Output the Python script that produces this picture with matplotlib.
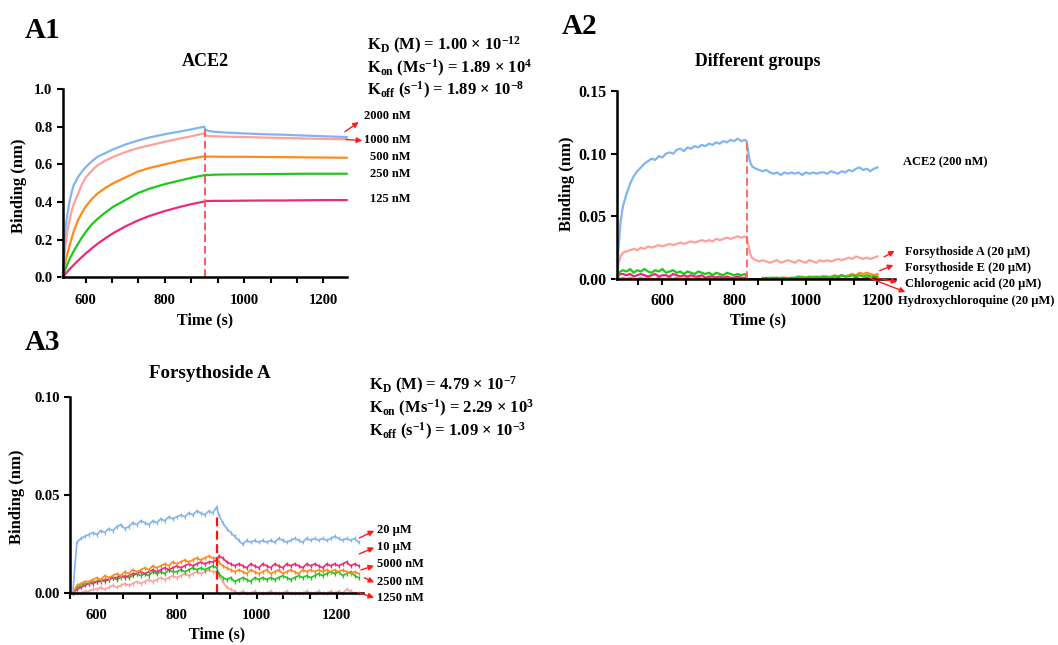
import matplotlib
matplotlib.use("Agg")
import matplotlib.pyplot as plt
import numpy as np
from matplotlib.ticker import MultipleLocator, FormatStrFormatter

plt.rcParams['font.family'] = ['Liberation Serif', 'DejaVu Serif']
plt.rcParams['font.weight'] = 'bold'
plt.rcParams['mathtext.fontset'] = 'custom'
plt.rcParams['mathtext.rm'] = 'Liberation Serif:bold'
plt.rcParams['mathtext.bf'] = 'Liberation Serif:bold'
plt.rcParams['mathtext.it'] = 'Liberation Serif:bold:italic'
plt.rcParams['mathtext.default'] = 'rm'

# ---------------- A1 : ACE2 ----------------
a1_time = [542, 546, 550, 555, 560, 565, 570, 580, 590, 600, 615, 630, 650, 670, 700, 730, 760,
           800, 840, 870, 899, 902, 910, 925, 950, 1000, 1050, 1100, 1150, 1200, 1259]
a1_2000 = [0.0, 0.17, 0.28, 0.35, 0.41, 0.455, 0.49, 0.53, 0.56, 0.585, 0.615, 0.64, 0.66, 0.68,
           0.705, 0.725, 0.742, 0.76, 0.775, 0.787, 0.80,
           0.785, 0.777, 0.773, 0.769, 0.764, 0.76, 0.757, 0.753, 0.749, 0.745]
a1_1000 = [0.0, 0.11, 0.19, 0.26, 0.31, 0.355, 0.39, 0.44, 0.49, 0.53, 0.565, 0.595, 0.62, 0.64,
           0.665, 0.685, 0.70, 0.72, 0.738, 0.75, 0.765,
           0.753, 0.751, 0.749, 0.747, 0.745, 0.742, 0.74, 0.737, 0.735, 0.733]
a1_500 = [0.0, 0.055, 0.095, 0.135, 0.175, 0.21, 0.245, 0.30, 0.34, 0.375, 0.415, 0.445, 0.475,
          0.50, 0.53, 0.56, 0.58, 0.60, 0.62, 0.632, 0.642,
          0.64, 0.641, 0.641, 0.64, 0.64, 0.639, 0.638, 0.637, 0.636, 0.635]
a1_250 = [0.0, 0.025, 0.05, 0.075, 0.10, 0.12, 0.14, 0.175, 0.21, 0.24, 0.28, 0.31, 0.345, 0.375,
          0.41, 0.445, 0.47, 0.495, 0.515, 0.53, 0.542,
          0.543, 0.543, 0.545, 0.546, 0.547, 0.548, 0.549, 0.55, 0.55, 0.55]
a1_125 = [0.0, 0.01, 0.02, 0.032, 0.045, 0.055, 0.066, 0.087, 0.107, 0.126, 0.153, 0.178, 0.208,
          0.235, 0.27, 0.30, 0.325, 0.352, 0.375, 0.39, 0.402,
          0.405, 0.405, 0.406, 0.406, 0.407, 0.408, 0.408, 0.409, 0.41, 0.41]
a1_labels = ['2000 nM', '1000 nM', '500 nM', '250 nM', '125 nM']
a1_switch = 900
a1_switch_top = 0.79

# ---------------- A2 : Different groups ----------------
a2_t_assoc = [473, 478, 483, 490] + list(range(500, 831, 10)) + [835]
a2_t_dissoc = [840, 845] + list(range(850, 1201, 10))
a2_t_dissoc_low = list(range(880, 1201, 10))
a2_ace2_assoc = [0.0, 0.025, 0.045, 0.058,
                 0.068, 0.076, 0.082, 0.086, 0.089, 0.092, 0.094, 0.096, 0.095, 0.098, 0.097, 0.100,
                 0.101, 0.100, 0.103, 0.104, 0.102, 0.105, 0.104, 0.106, 0.105, 0.107, 0.106, 0.108,
                 0.107, 0.109, 0.108, 0.110, 0.109, 0.111, 0.110, 0.112, 0.110, 0.111,
                 0.110]
a2_ace2_dissoc = [0.100, 0.093,
                  0.090, 0.088, 0.087, 0.086, 0.087, 0.085, 0.084, 0.085, 0.083, 0.085, 0.084, 0.085,
                  0.084, 0.085, 0.083, 0.085, 0.084, 0.085, 0.084, 0.085, 0.085, 0.084, 0.086, 0.085,
                  0.084, 0.086, 0.085, 0.087, 0.086, 0.088, 0.089, 0.087, 0.088, 0.086, 0.088, 0.089]
a2_fa_assoc = [0.0, 0.012, 0.018, 0.021,
               0.022, 0.023, 0.024, 0.023, 0.025, 0.024, 0.026, 0.025, 0.026, 0.027, 0.026, 0.027,
               0.028, 0.027, 0.028, 0.029, 0.028, 0.029, 0.030, 0.029, 0.030, 0.031, 0.030, 0.031,
               0.030, 0.032, 0.031, 0.032, 0.033, 0.032, 0.033, 0.034, 0.033, 0.034,
               0.033]
a2_fa_dissoc = [0.027, 0.020,
                0.017, 0.015, 0.014, 0.015, 0.014, 0.013, 0.014, 0.015, 0.013, 0.014, 0.015, 0.014,
                0.013, 0.015, 0.014, 0.013, 0.015, 0.014, 0.013, 0.015, 0.014, 0.015, 0.014, 0.015,
                0.016, 0.015, 0.016, 0.017, 0.016, 0.018, 0.017, 0.016, 0.017, 0.016, 0.017, 0.018]
a2_fe_assoc = [0.0, 0.004, 0.006, 0.007,
               0.006, 0.008, 0.005, 0.007, 0.006, 0.008, 0.006, 0.005, 0.007, 0.006, 0.008, 0.005,
               0.006, 0.007, 0.005, 0.006, 0.004, 0.006, 0.005, 0.004, 0.006, 0.005, 0.004, 0.005,
               0.003, 0.005, 0.004, 0.003, 0.005, 0.004, 0.003, 0.004, 0.003, 0.004,
               0.002]
a2_fe_dissoc = [0.001, 0.000, 0.001, 0.001, 0.000, 0.001, 0.001, 0.000, 0.001, 0.001,
                0.002, 0.001, 0.001, 0.002, 0.001, 0.002, 0.001, 0.002, 0.002, 0.001,
                0.002, 0.002, 0.003, 0.002, 0.002, 0.003, 0.002, 0.003, 0.002, 0.003,
                0.002, 0.002, 0.002]
a2_ca_assoc = [0.0, 0.003, 0.004, 0.004,
               0.003, 0.004, 0.002, 0.003, 0.004, 0.003, 0.002, 0.003, 0.004, 0.002, 0.003, 0.003,
               0.002, 0.004, 0.003, 0.002, 0.003, 0.002, 0.003, 0.002, 0.002, 0.003, 0.001, 0.002,
               0.002, 0.001, 0.002, 0.001, 0.002, 0.001, 0.001, 0.002, 0.001, 0.001,
               0.001]
a2_ca_dissoc = [0.000, 0.001, 0.000, 0.000, 0.001, 0.000, 0.000, 0.000, 0.001, 0.000,
                0.000, 0.000, 0.001, 0.000, 0.000, 0.000, 0.000, 0.001, 0.000, 0.000,
                0.000, 0.001, 0.000, 0.000, 0.000, 0.000, 0.001, 0.000, 0.000, 0.001,
                0.000, 0.000, 0.000]
a2_or_assoc = [0.0, 0.001, 0.000, 0.001,
               0.000, 0.001, 0.000, 0.000, 0.001, 0.000, 0.001, 0.000, 0.000, 0.001, 0.000, 0.000,
               0.001, 0.000, 0.001, 0.000, 0.000, 0.001, 0.000, 0.000, 0.001, 0.000, 0.000, 0.001,
               0.000, 0.001, 0.000, 0.000, 0.001, 0.000, 0.000, 0.001, 0.000, 0.000,
               0.000]
a2_or_dissoc = [0.000, 0.001, 0.000, 0.001, 0.001, 0.000, 0.001, 0.001, 0.000, 0.001,
                0.001, 0.002, 0.001, 0.001, 0.002, 0.001, 0.002, 0.002, 0.001, 0.002,
                0.003, 0.002, 0.003, 0.002, 0.003, 0.004, 0.003, 0.005, 0.004, 0.005,
                0.004, 0.003, 0.004]
a2_hcq_time = [473, 1200]
a2_hcq = [0.0, 0.0]
a2_labels = ['ACE2 (200 nM)', 'Forsythoside A (20 µM)', 'Forsythoside E (20 µM)',
             'Chlorogenic acid (20 µM)', 'Hydroxychloroquine (20 µM)']
a2_switch = 835
a2_switch_top = 0.111

# ---------------- A3 : Forsythoside A ----------------
a3_t_assoc = list(range(540, 901, 10))
a3_t_dissoc = list(range(905, 1256, 10))
a3_20uM_a = [0.000, 0.026, 0.028, 0.029, 0.030, 0.031, 0.030, 0.032, 0.031, 0.033, 0.032, 0.034,
             0.035, 0.033, 0.034, 0.036, 0.035, 0.037, 0.036, 0.035, 0.037, 0.036, 0.038, 0.037,
             0.039, 0.038, 0.039, 0.040, 0.039, 0.041, 0.040, 0.042, 0.041, 0.040, 0.042, 0.041, 0.044]
a3_20uM_d = [0.040, 0.036, 0.033, 0.031, 0.029, 0.027, 0.025, 0.027, 0.026, 0.027, 0.026, 0.027,
             0.026, 0.027, 0.026, 0.028, 0.027, 0.026, 0.027, 0.028, 0.027, 0.026, 0.028, 0.027,
             0.028, 0.027, 0.028, 0.027, 0.028, 0.029, 0.028, 0.027, 0.028, 0.027, 0.028, 0.026]
a3_10uM_a = [0.000, 0.002, 0.003, 0.004, 0.005, 0.005, 0.006, 0.006, 0.007, 0.007, 0.008, 0.008,
             0.009, 0.008, 0.009, 0.010, 0.010, 0.011, 0.010, 0.011, 0.012, 0.011, 0.012, 0.013,
             0.012, 0.013, 0.014, 0.013, 0.014, 0.015, 0.014, 0.015, 0.016, 0.015, 0.016, 0.016, 0.017]
a3_10uM_d = [0.019, 0.018, 0.016, 0.015, 0.014, 0.015, 0.014, 0.013, 0.015, 0.014, 0.013, 0.015,
             0.014, 0.013, 0.015, 0.014, 0.013, 0.015, 0.014, 0.015, 0.014, 0.013, 0.015, 0.014,
             0.015, 0.014, 0.013, 0.015, 0.014, 0.015, 0.014, 0.015, 0.016, 0.014, 0.015, 0.014]
a3_5000_a = [0.000, 0.004, 0.005, 0.006, 0.006, 0.007, 0.008, 0.007, 0.009, 0.008, 0.009, 0.010,
             0.009, 0.011, 0.010, 0.012, 0.011, 0.012, 0.013, 0.012, 0.014, 0.013, 0.014, 0.015,
             0.014, 0.016, 0.015, 0.016, 0.017, 0.016, 0.017, 0.018, 0.017, 0.018, 0.019, 0.018, 0.018]
a3_5000_d = [0.016, 0.014, 0.013, 0.012, 0.011, 0.012, 0.011, 0.010, 0.012, 0.011, 0.010, 0.011,
             0.012, 0.010, 0.011, 0.012, 0.010, 0.011, 0.012, 0.011, 0.010, 0.012, 0.011, 0.012,
             0.011, 0.012, 0.011, 0.012, 0.011, 0.012, 0.011, 0.012, 0.011, 0.010, 0.011, 0.010]
a3_2500_a = [0.000, 0.003, 0.004, 0.005, 0.005, 0.006, 0.006, 0.007, 0.006, 0.007, 0.008, 0.007,
             0.008, 0.009, 0.008, 0.009, 0.010, 0.009, 0.010, 0.009, 0.011, 0.010, 0.011, 0.010,
             0.012, 0.011, 0.011, 0.012, 0.011, 0.012, 0.013, 0.012, 0.013, 0.012, 0.013, 0.014, 0.013]
a3_2500_d = [0.010, 0.008, 0.007, 0.008, 0.006, 0.007, 0.008, 0.007, 0.006, 0.008, 0.007, 0.008,
             0.007, 0.008, 0.007, 0.008, 0.009, 0.008, 0.007, 0.008, 0.009, 0.008, 0.009, 0.008,
             0.009, 0.010, 0.009, 0.010, 0.011, 0.010, 0.011, 0.009, 0.010, 0.011, 0.009, 0.008]
a3_1250_a = [0.000, 0.000, 0.000, 0.001, 0.001, 0.002, 0.002, 0.003, 0.002, 0.003, 0.004, 0.003,
             0.004, 0.005, 0.004, 0.005, 0.006, 0.005, 0.006, 0.007, 0.006, 0.007, 0.008, 0.007,
             0.008, 0.009, 0.008, 0.009, 0.010, 0.009, 0.010, 0.011, 0.010, 0.011, 0.012, 0.011, 0.011]
a3_1250_d = [0.009, 0.006, 0.003, 0.002, 0.001, 0.000, 0.001, 0.000, 0.000, 0.001, 0.000, 0.000,
             0.000, 0.001, 0.000, 0.000, 0.000, 0.001, 0.000, 0.000, 0.000, 0.000, 0.001, 0.000,
             0.000, 0.001, 0.000, 0.000, 0.001, 0.000, 0.001, 0.000, 0.002, 0.001, 0.000, 0.000]
a3_labels = ['20 µM', '10 µM', '5000 nM', '2500 nM', '1250 nM']
a3_switch = 900
a3_switch_top = 0.041

# ---------------- styling ----------------
C_BLUE = '#80B4F2'
C_PINK = '#FFA09C'
C_ORANGE = '#FF8A1A'
C_GREEN = '#1DC81D'
C_MAGENTA = '#F0287A'
C_RED = '#FF1A1A'

W, H = 1058, 645
fig = plt.figure(figsize=(W / 100, H / 100), dpi=100)


def P(x, y):
    return (x / W, 1 - y / H)


def rect(l, t, r, b):
    return [l / W, 1 - b / H, (r - l) / W, (b - t) / H]


def style_axis(ax, xlim, ylim, ystep, yfmt, size=10.5, xpad=8.0, ypad=3.5):
    ax.set_xlim(*xlim)
    ax.set_ylim(*ylim)
    for s in ['top', 'right']:
        ax.spines[s].set_visible(False)
    for s in ['left', 'bottom']:
        ax.spines[s].set_linewidth(1.8)
        ax.spines[s].set_zorder(5)
    ax.xaxis.set_major_locator(MultipleLocator(200))
    ax.xaxis.set_minor_locator(MultipleLocator(200 / 3))
    ax.yaxis.set_major_locator(MultipleLocator(ystep))
    ax.yaxis.set_major_formatter(FormatStrFormatter(yfmt))
    ax.tick_params(which='both', direction='out', length=4, width=1.5, labelsize=size)
    ax.tick_params(axis='x', which='major', pad=xpad)
    ax.tick_params(axis='y', which='major', pad=ypad)
    ax.tick_params(axis='y', which='minor', left=False)
    for lab in ax.get_xticklabels() + ax.get_yticklabels():
        lab.set_fontweight('bold')
    ax.patch.set_alpha(0)


def ftext(x, y, s, size, ha='left', va='center', rot=0):
    fig.text(x / W, 1 - y / H, s, fontsize=size, fontweight='bold', ha=ha, va=va, rotation=rot,
             family=['Liberation Serif', 'DejaVu Serif'])


def arrow(x0, y0, x1, y1):
    fig.add_artist(matplotlib.patches.FancyArrowPatch(
        P(x0, y0), P(x1, y1), transform=fig.transFigure, arrowstyle='-|>',
        mutation_scale=8, color=C_RED, lw=1.0))


# ---- A1 ----
ax1 = fig.add_axes(rect(62.7, 89, 346.7, 277.3))
style_axis(ax1, (542, 1259), (0, 1.0), 0.2, '%.1f')
for vals, col in [(a1_125, C_MAGENTA), (a1_250, C_GREEN), (a1_500, C_ORANGE),
                  (a1_1000, C_PINK), (a1_2000, C_BLUE)]:
    ax1.plot(a1_time, vals, color=col, lw=1.6, clip_on=False, solid_joinstyle='round')
ax1.plot([a1_switch, a1_switch], [0, a1_switch_top], color='#FF5A5A', lw=1.4, ls=(0, (4, 2)))

# ---- A2 ----
ax2 = fig.add_axes(rect(616.7, 91, 895.4, 279))
style_axis(ax2, (472.6, 1250), (0, 0.15), 0.05, '%.2f', size=11.5, xpad=6.0, ypad=3.5)
ax2.plot(a2_hcq_time, a2_hcq, color='black', lw=1.2, clip_on=False)
for va, vd, col in [(a2_or_assoc, a2_or_dissoc, C_ORANGE), (a2_ca_assoc, a2_ca_dissoc, C_MAGENTA),
                    (a2_fe_assoc, a2_fe_dissoc, C_GREEN)]:
    ax2.plot(a2_t_assoc, va, color=col, lw=1.6, clip_on=False)
    ax2.plot(a2_t_dissoc_low, vd, color=col, lw=1.6, clip_on=False)
ax2.plot(a2_t_assoc + a2_t_dissoc, a2_fa_assoc + a2_fa_dissoc, color=C_PINK, lw=1.6)
ax2.plot(a2_t_assoc + a2_t_dissoc, a2_ace2_assoc + a2_ace2_dissoc, color=C_BLUE, lw=1.6)
ax2.plot([a2_switch, a2_switch], [0, a2_switch_top], color='#FF6A6A', lw=1.4, ls=(0, (4, 2)))

# ---- A3 ----
ax3 = fig.add_axes(rect(70, 397.3, 363, 593.3))
style_axis(ax3, (533, 1266), (0, 0.10), 0.05, '%.2f', xpad=7.0)
for va, vd, col in [(a3_1250_a, a3_1250_d, C_PINK), (a3_2500_a, a3_2500_d, C_GREEN),
                    (a3_10uM_a, a3_10uM_d, C_MAGENTA), (a3_5000_a, a3_5000_d, C_ORANGE),
                    (a3_20uM_a, a3_20uM_d, C_BLUE)]:
    ax3.plot(a3_t_assoc + a3_t_dissoc, va + vd, color=col, lw=1.2, marker='|', ms=3.5,
             mew=0.9, clip_on=False)
ax3.plot([a3_switch, a3_switch], [0, a3_switch_top], color='#FF1010', lw=1.6, ls=(0, (4, 2)))

# ---- panel labels, titles, axis labels ----
ftext(25, 30, 'A1', 21)
ftext(562, 26, 'A2', 21)
ftext(25, 343, 'A3', 21)

ftext(205, 61, 'ACE2', 13, ha='center')
ftext(758, 62, 'Different groups', 12.8, ha='center')
ftext(210, 373, 'Forsythoside A', 13.6, ha='center')

ftext(19, 186, 'Binding (nm)', 12, ha='center', rot=90)
ftext(567, 184, 'Binding (nm)', 12, ha='center', rot=90)
ftext(17, 497, 'Binding (nm)', 12, ha='center', rot=90)

ftext(205, 320, 'Time (s)', 11.5, ha='center')
ftext(758, 320, 'Time (s)', 11.5, ha='center')
ftext(217, 634, 'Time (s)', 11.5, ha='center')

# kinetics
k1 = [r'K$_{\mathrm{D}}$ (M) = 1.00 × 10$^{\mathrm{-12}}$',
      r'K$_{\mathrm{on}}$ (Ms$^{\mathrm{-1}}$) = 1.89 × 10$^{\mathrm{4}}$',
      r'K$_{\mathrm{off}}$ (s$^{\mathrm{-1}}$) = 1.89 × 10$^{\mathrm{-8}}$']
for s, y in zip(k1, [45, 68, 90.5]):
    ftext(367, y, s, 12)
k3 = [r'K$_{\mathrm{D}}$ (M) = 4.79 × 10$^{\mathrm{-7}}$',
      r'K$_{\mathrm{on}}$ (Ms$^{\mathrm{-1}}$) = 2.29 × 10$^{\mathrm{3}}$',
      r'K$_{\mathrm{off}}$ (s$^{\mathrm{-1}}$) = 1.09 × 10$^{\mathrm{-3}}$']
for s, y in zip(k3, [385.5, 408.3, 431]):
    ftext(369, y, s, 12)

# series labels A1
for s, y in zip(a1_labels, [116, 140, 157, 174, 199]):
    ftext(411, y, s, 9, ha='right')
arrow(342.7, 133.3, 361, 120.5)
arrow(343.3, 139.3, 365, 140.7)

# series labels A2
ftext(903, 162, a2_labels[0], 9)
ftext(905, 251.5, a2_labels[1], 9)
ftext(905, 268.3, a2_labels[2], 9)
ftext(905, 284.5, a2_labels[3], 9)
ftext(898, 301, a2_labels[4], 9)
arrow(881.7, 258.3, 897, 249.5)
arrow(877, 271.7, 896, 264)
arrow(870, 276.7, 900, 282.5)
arrow(868, 277.5, 908, 293)

# series labels A3
for s, y in zip(a3_labels, [530, 546.7, 564, 581.7, 598.3]):
    ftext(377, y, s, 9)
arrow(356.7, 539.3, 376.7, 529.5)
arrow(356.7, 555, 376.7, 546.5)
arrow(358.3, 570.7, 376.7, 565)
arrow(361.7, 576.7, 376.7, 583.5)
arrow(355, 591.7, 376.7, 598.3)

fig.savefig('out.png', dpi=100)
